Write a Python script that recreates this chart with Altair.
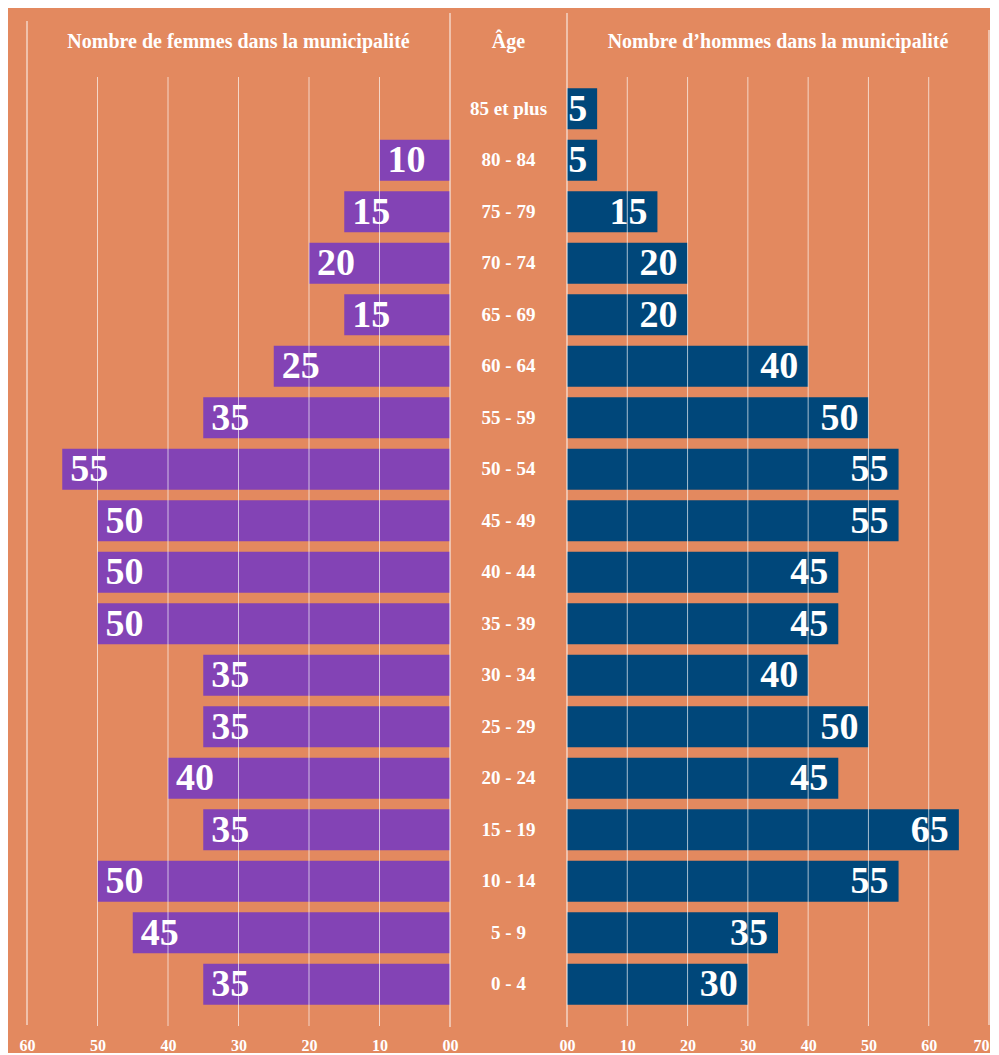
import altair as alt
import pandas as pd

# ---- data ----
ages = ["85 et plus", "80 - 84", "75 - 79", "70 - 74", "65 - 69", "60 - 64",
        "55 - 59", "50 - 54", "45 - 49", "40 - 44", "35 - 39", "30 - 34",
        "25 - 29", "20 - 24", "15 - 19", "10 - 14", "5 - 9", "0 - 4"]
women = [0, 10, 15, 20, 15, 25, 35, 55, 50, 50, 50, 35, 35, 40, 35, 50, 45, 35]
men = [5, 5, 15, 20, 20, 40, 50, 55, 55, 45, 45, 40, 50, 45, 65, 55, 35, 30]
left_ticks = [0, 10, 20, 30, 40, 50, 60]
right_ticks = [0, 10, 20, 30, 40, 50, 60, 70]
left_title = ["Nombre de femmes dans la municipalité"]
right_title = ["Nombre d\u2019hommes dans la municipalité"]
center_title = ["Âge"]

# ---- style ----
BG = "#E3895F"
PURPLE = "#8343B5"
NAVY = "#00477A"
FONT = "Liberation Serif"
H = 1013
LW, CW, RW = 423, 117, 422
BAND_RANGE = [70, 997]

df_w = pd.DataFrame({"age": ages, "value": women})
df_m = pd.DataFrame({"age": ages, "value": men})
df_age = pd.DataFrame({"age": ages})


def yenc():
    return alt.Y("age:N", sort=ages,
                 scale=alt.Scale(domain=ages, range=BAND_RANGE,
                                 paddingInner=0.2, paddingOuter=0.1),
                 axis=None)


def xenc(domain, reverse, ticks):
    last = domain[1]
    return alt.X("value:Q",
                 scale=alt.Scale(domain=domain, reverse=reverse, nice=False, zero=True),
                 axis=alt.Axis(values=ticks, grid=False, ticks=False, domain=False,
                               title=None, labelFont=FONT, labelFontSize=16,
                               labelFontWeight="bold", labelColor="white",
                               labelPadding=11, labelFlush=False,
                               labelAlign=alt.ExprRef(
                                   f"datum.value == {last} && {str(not reverse).lower()} ? 'right' : 'center'"),
                               labelExpr="datum.value == 0 ? '00' : datum.label"))


def panel(df, ticks, domain, reverse, color, width, title, outer_top, align, dx):
    x = xenc(domain, reverse, ticks)
    tick_df = pd.DataFrame({"value": ticks})
    inner = [t for t in ticks if t not in (domain[0], domain[1])]
    bars = alt.Chart(df).mark_bar(color=color).encode(x=x, y=yenc())
    grid = alt.Chart(tick_df).transform_filter(
        alt.FieldOneOfPredicate(field="value", oneOf=inner)
    ).mark_rule(color="white", strokeWidth=1, opacity=0.65).encode(
        x=x, y=alt.value(64), y2=alt.value(H))
    zero_line = alt.Chart(tick_df).transform_filter(
        alt.datum.value == domain[0]
    ).mark_rule(color="white", strokeWidth=1, opacity=0.95).encode(
        x=x, y=alt.value(0), y2=alt.value(H + 1))
    outer_line = alt.Chart(tick_df).transform_filter(
        alt.datum.value == domain[1]
    ).mark_rule(color="white", strokeWidth=1, opacity=0.95).encode(
        x=x, y=alt.value(outer_top), y2=alt.value(H - 1))
    labels = alt.Chart(df).transform_filter(alt.datum.value > 0).mark_text(
        font=FONT, fontSize=38, fontWeight="bold", color="white",
        align=align, baseline="middle", dx=dx, dy=1
    ).encode(x=x, y=yenc(), text="value:Q")
    head = alt.Chart(pd.DataFrame({"t": title})).mark_text(
        font=FONT, fontSize=20, fontWeight="bold", color="white",
        align="center", baseline="middle"
    ).encode(x=alt.value(width / 2), y=alt.value(29), text="t:N")
    return alt.layer(bars, grid, zero_line, outer_line, labels, head).properties(
        width=width, height=H)


left = panel(df_w, left_ticks, [0, 60], True, PURPLE, LW, left_title, 8, "left", 8)
right = panel(df_m, right_ticks, [0, 70], False, NAVY, RW, right_title, 17, "right", -10)

age_text = alt.Chart(df_age).mark_text(
    font=FONT, fontSize=19, fontWeight="bold", color="white",
    align="center", baseline="middle"
).encode(x=alt.value(CW / 2), y=yenc(), text="age:N")
age_head = alt.Chart(pd.DataFrame({"t": center_title})).mark_text(
    font=FONT, fontSize=20, fontWeight="bold", color="white",
    align="center", baseline="middle"
).encode(x=alt.value(CW / 2), y=alt.value(29), text="t:N")
center = alt.layer(age_text, age_head).properties(width=CW, height=H)

chart = alt.hconcat(left, center, right, spacing=0, bounds="flush").properties(
    background=BG,
    padding={"left": 11, "top": 4, "right": 0, "bottom": 0},
).configure_view(stroke=None).configure_concat(spacing=0)

chart.save("out.html", embed_options={"renderer": "svg", "actions": False})
